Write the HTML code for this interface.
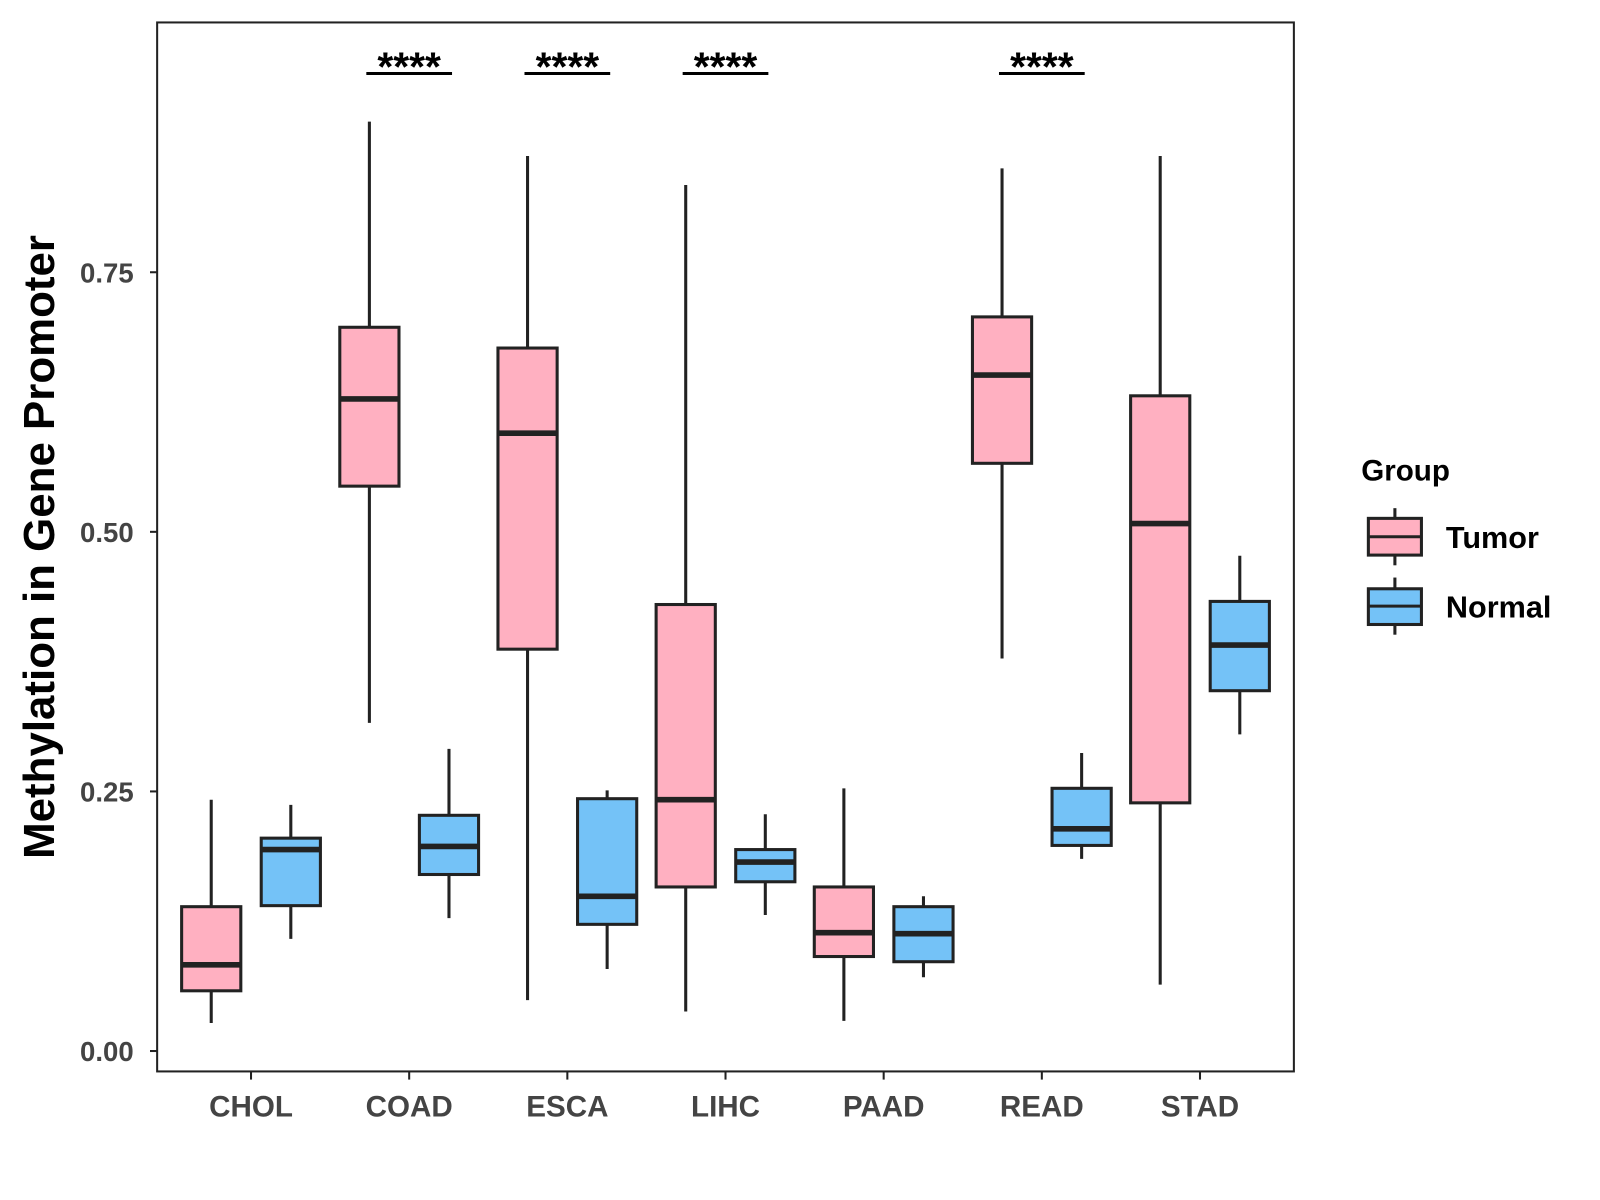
<!DOCTYPE html>
<html><head><meta charset="utf-8"><style>
html,body{margin:0;padding:0;background:#fff}
svg{display:block}
text{font-family:"Liberation Sans",Arial,sans-serif;font-weight:bold}
</style></head><body>
<svg id="chart" width="1600" height="1200" viewBox="0 0 1568 1176" xmlns="http://www.w3.org/2000/svg">
<rect x="0" y="0" width="1568" height="1176" fill="#fff"/>
<g id="marks"></g>
<rect x="154" y="22" width="1114" height="1028" fill="none" stroke="#222" stroke-width="2"/>
<text transform="translate(53,536) rotate(-90)" text-anchor="middle" font-size="43" fill="#000">Methylation in Gene Promoter</text>
<g>
<text x="1334" y="471" font-size="29" fill="#000">Group</text>
<line x1="1367" y1="498" x2="1367" y2="554" stroke="#222" stroke-width="3"/>
<rect x="1341" y="508" width="52" height="36" fill="#FFB0C1" stroke="#222" stroke-width="3"/>
<line x1="1341" y1="526" x2="1393" y2="526" stroke="#222" stroke-width="3"/>
<text x="1417" y="537" font-size="30" fill="#000">Tumor</text>
<line x1="1367" y1="566" x2="1367" y2="622" stroke="#222" stroke-width="3"/>
<rect x="1341" y="577" width="52" height="35" fill="#74C2F7" stroke="#222" stroke-width="3"/>
<line x1="1341" y1="594" x2="1393" y2="594" stroke="#222" stroke-width="3"/>
<text x="1417" y="605" font-size="30" fill="#000">Normal</text>
</g>
</svg>
<script>
const categories = ["CHOL","COAD","ESCA","LIHC","PAAD","READ","STAD"];
const tumorLow  = [0.027,0.316,0.049,0.038,0.029,0.378,0.064];
const tumorQ1   = [0.058,0.544,0.387,0.158,0.091,0.566,0.239];
const tumorMed  = [0.083,0.628,0.595,0.242,0.114,0.651,0.508];
const tumorQ3   = [0.139,0.697,0.677,0.430,0.158,0.707,0.631];
const tumorHigh = [0.242,0.895,0.862,0.834,0.253,0.850,0.862];
const normalLow  = [0.108,0.128,0.079,0.131,0.071,0.185,0.305];
const normalQ1   = [0.140,0.170,0.122,0.163,0.086,0.198,0.347];
const normalMed  = [0.194,0.197,0.149,0.182,0.113,0.214,0.391];
const normalQ3   = [0.205,0.227,0.243,0.194,0.139,0.253,0.433];
const normalHigh = [0.237,0.291,0.251,0.228,0.149,0.287,0.477];
const yTicks = [0,0.25,0.5,0.75];
const yTickLabels = ["0.00","0.25","0.50","0.75"];
const sigCategories = ["COAD","ESCA","LIHC","READ"];
const sigLabel = "****";

const NS="http://www.w3.org/2000/svg";
const g=document.getElementById('marks');
function y(v){return 1030 - v*1017.6;}
function x(i){return 246 + i*155;}
function mk(tag,attrs,parent){const e=document.createElementNS(NS,tag);for(const k in attrs)e.setAttribute(k,attrs[k]);(parent||g).appendChild(e);return e;}

yTicks.forEach((t,i)=>{
  const l=mk('line',{x1:147,x2:154,y1:y(t),y2:y(t),stroke:'#222','stroke-width':2});
  
  
  const tx=mk('text',{x:131,y:y(t)+10,'text-anchor':'end','font-size':27,fill:'#444'});
  tx.textContent=yTickLabels[i];
  
  
});
categories.forEach((c,i)=>{
  const l=mk('line',{x1:x(i),x2:x(i),y1:1050,y2:1058,stroke:'#222','stroke-width':2});
  
  
  const tx=mk('text',{x:x(i),y:1094,'text-anchor':'middle','font-size':29,fill:'#444'});
  tx.textContent=c;
  
  
});
function box(cx,lo,q1,md,q3,hi,fill,name){
  const grp=mk('g',{});
  
  
  mk('line',{x1:cx,x2:cx,y1:y(hi),y2:y(lo),stroke:'#222','stroke-width':3},grp);
  mk('rect',{x:cx-29,y:y(q3),width:58,height:y(q1)-y(q3),fill:fill,stroke:'#222','stroke-width':3},grp);
  mk('line',{x1:cx-29,x2:cx+29,y1:y(md),y2:y(md),stroke:'#222','stroke-width':5.5},grp);
}
categories.forEach((c,i)=>{
  box(x(i)-39,tumorLow[i],tumorQ1[i],tumorMed[i],tumorQ3[i],tumorHigh[i],'#FFB0C1','box-tumor-'+c.toLowerCase());
  box(x(i)+39,normalLow[i],normalQ1[i],normalMed[i],normalQ3[i],normalHigh[i],'#74C2F7','box-normal-'+c.toLowerCase());
});
sigCategories.forEach(c=>{
  const i=categories.indexOf(c);
  const l=mk('line',{x1:x(i)-42,x2:x(i)+42,y1:72,y2:72,stroke:'#000','stroke-width':3});
  
  
  const t=mk('text',{x:x(i),y:79,'text-anchor':'middle','font-size':40,fill:'#000'});
  t.textContent=sigLabel;
  
  
});
</script>
</body></html>
